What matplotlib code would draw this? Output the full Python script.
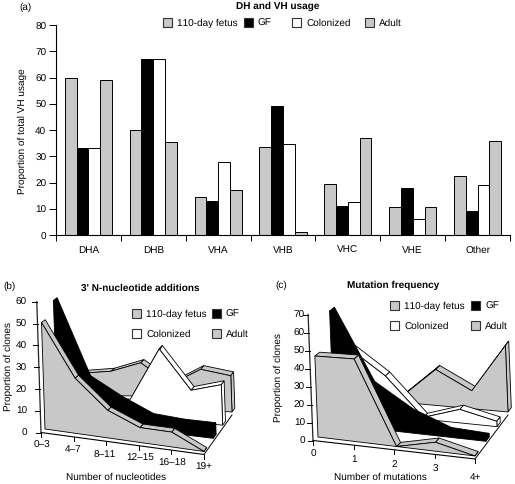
import numpy as np
import matplotlib
matplotlib.use('Agg')
import matplotlib.pyplot as plt
from matplotlib.patches import Polygon, Rectangle

plt.rcParams['font.family'] = ['Liberation Sans', 'DejaVu Sans']
plt.rcParams['text.hinting'] = 'no_hinting'
plt.rcParams['text.hinting_factor'] = 1

GREY = '#c8c8c8'
SERIES = ['110-day fetus', 'GF', 'Colonized', 'Adult']
COLORS = [GREY, 'black', 'white', GREY]

# panel a
usage_groups = ['DHA', 'DHB', 'VHA', 'VHB', 'VHC', 'VHE', 'Other']
usage_fetus = [60, 40, 14.5, 33.5, 19.5, 10.5, 22.5]
usage_gf = [33, 67, 13, 49, 11, 18, 9]
usage_colonized = [33, 67, 28, 34.5, 12.5, 6, 19]
usage_adult = [59, 35.5, 17, 1, 37, 10.5, 36]

# panel b
nuc_labels = ['0\u20133', '4\u20137', '8\u201311', '12\u201315', '16\u201318', '19+']
nuc_fetus = [50, 26, 13, 7, 7, 0]
nuc_gf = [56, 21, 13, 6.5, 5.5, 5.5]
nuc_colonized = [15, 7, 8, 33, 15, 19]
nuc_adult = [13, 15, 20, 11, 19, 17]

# panel c
mut_labels = ['0', '1', '2', '3', '4+']
mut_fetus = [45, 46, 0, 5, 0]
mut_gf = [63, 24, 11, 3, 2]
mut_colonized = [36, 22, 1, 7.5, 3]
mut_adult = [3, 3, 20, 10, 37]


def floor_point(geo, i, d):
    # bilinear position on the floor of the pseudo 3D chart
    u = i / geo['n']
    fl, fr, bl, br = [np.array(geo[k], float) for k in ('fl', 'fr', 'bl', 'br')]
    front = fl + (fr - fl) * u
    back = bl + (br - bl) * u
    return front + (back - front) * d / 3


def point(geo, i, d, v):
    p = floor_point(geo, i, d)
    return p + np.array([geo['tilt'], -geo['scale']]) * v


def draw_series(ax, geo, values, d, color):
    n = len(values)
    w = 0.3
    lw = 0.6
    # ribbon on top of the wall, drawn right to left
    for i in range(n - 2, -1, -1):
        quad = [point(geo, i, d, values[i]), point(geo, i + 1, d, values[i + 1]),
                point(geo, i + 1, d + w, values[i + 1]), point(geo, i, d + w, values[i])]
        ax.add_patch(Polygon(quad, fc=color, ec='black', lw=lw))
    # end cap
    cap = [point(geo, n - 1, d, values[-1]), point(geo, n - 1, d + w, values[-1]),
           point(geo, n - 1, d + w, 0), point(geo, n - 1, d, 0)]
    ax.add_patch(Polygon(cap, fc=color, ec='black', lw=lw))
    # wall
    face = [floor_point(geo, 0, d)]
    face += [point(geo, i, d, values[i]) for i in range(n)]
    face += [floor_point(geo, n - 1, d)]
    ax.add_patch(Polygon(face, fc=color, ec='black', lw=lw))


def legend_item(ax, x, y, color, label):
    ax.add_patch(Rectangle((x, y - 4.5), 9, 9, fc=color, ec='#333333', lw=0.8))
    ax.text(x + 14, y, label, fontsize=7.4, va='center', ha='left')


def draw_legend(ax, x1, x2, y1, y2):
    legend_item(ax, x1, y1, COLORS[0], SERIES[0])
    legend_item(ax, x2, y1, COLORS[1], SERIES[1])
    legend_item(ax, x1, y2, COLORS[2], SERIES[2])
    legend_item(ax, x2, y2, COLORS[3], SERIES[3])


def draw_panel(ax, geo, data, labels, yticks, label_pos):
    for d in range(3, -1, -1):
        draw_series(ax, geo, data[d], d, COLORS[d])

    # axes lines
    ax0 = np.array(geo['ax0'], float)
    n = geo['n']
    end = np.array(geo['fr'], float) + np.array([0, 3])
    ax.plot([ax0[0], end[0]], [ax0[1], end[1]], color='black', lw=0.8)
    ax.plot([end[0], geo['br'][0]], [end[1], geo['br'][1] + 3], color='black', lw=0.7)
    top = ax0 + np.array([geo['tilt'], -geo['axscale']]) * yticks[-1]
    ax.plot([ax0[0], top[0]], [ax0[1], top[1]], color='#222222', lw=0.9)
    for t in yticks:
        p = ax0 + np.array([geo['tilt'], -geo['axscale']]) * t
        ax.plot([p[0] - 5, p[0]], [p[1], p[1]], color='black', lw=0.7)
        ax.text(geo['tick_x'], p[1], str(t), fontsize=7, ha='right', va='center')
    for i, lab in enumerate(labels):
        p = ax0 + (end - ax0) * i / n
        ax.plot([p[0], p[0]], [p[1], p[1] + 4], color='black', lw=0.7)
        ax.text(label_pos[i][0], label_pos[i][1], lab, fontsize=7, ha='center', va='center')


def main():
    fig = plt.figure(figsize=(5.15, 4.85), dpi=100)

    # overlay in pixel units for the pseudo 3D panels and all loose text
    ov = fig.add_axes([0, 0, 1, 1])
    ov.set_xlim(0, 515)
    ov.set_ylim(485, 0)
    ov.axis('off')

    # panel a, ordinary bars
    ax = fig.add_axes([56 / 515, 1 - 236 / 485, 454 / 515, 210 / 485])
    pos = np.arange(len(usage_groups))
    bw = 0.182
    usage = [usage_fetus, usage_gf, usage_colonized, usage_adult]
    for k, vals in enumerate(usage):
        ax.bar(pos + 0.5 + (k - 1.5) * bw, vals, bw, color=COLORS[k], edgecolor='black', linewidth=0.7)
    ax.set_xlim(0, 7)
    ax.set_ylim(0, 80)
    ax.set_yticks(range(0, 81, 10))
    ax.set_xticks(range(8))
    ax.set_xticklabels([])
    ax.set_xticks(pos + 0.5, minor=True)
    ax.set_xticklabels(usage_groups, minor=True)
    ax.tick_params(axis='x', which='minor', length=0, labelsize=7, pad=7)
    ax.tick_params(axis='x', which='major', length=4, width=0.7)
    ax.tick_params(axis='y', length=5, width=0.7, labelsize=7, pad=2)
    ax.spines['top'].set_visible(False)
    ax.spines['right'].set_visible(False)
    ax.patch.set_alpha(0)

    ov.text(19, 7, '(a)', fontsize=7, ha='left', va='center')
    ov.text(278, 6, 'DH and VH usage', fontsize=7, fontweight='bold', ha='center', va='center')
    for x, color, lab in zip([163, 244, 292, 365], COLORS, SERIES):
        legend_item(ov, x, 23, color, lab)
    ov.text(22, 131, 'Proportion of total VH usage', fontsize=7, rotation=90, ha='center', va='center')

    # panel b
    geo_b = {'fl': (45, 430), 'fr': (204, 452.5), 'bl': (82, 402), 'br': (232, 413),
             'n': 5, 'tilt': -0.07, 'scale': 2.13, 'axscale': 2.18, 'ax0': (41, 433.5), 'tick_x': 27}
    nuc_pos = [(42, 445), (73, 449), (105, 455), (140, 458), (172, 463), (204, 467)]
    draw_panel(ov, geo_b, [nuc_fetus, nuc_gf, nuc_colonized, nuc_adult], nuc_labels,
               list(range(0, 61, 10)), nuc_pos)
    ov.text(3, 286, '(b)', fontsize=7, ha='left', va='center')
    ov.text(140, 288, "3' N-nucleotide additions", fontsize=7, fontweight='bold', ha='center', va='center')
    draw_legend(ov, 132, 212, 314, 334)
    ov.text(8, 367, 'Proportion of clones', fontsize=7, rotation=90, ha='center', va='center')
    ov.text(116, 477, 'Number of nucleotides', fontsize=7, ha='center', va='center')

    # panel c
    geo_c = {'fl': (318, 438), 'fr': (475, 457), 'bl': (366, 400), 'br': (508, 413),
             'n': 4, 'tilt': -0.07, 'scale': 1.8, 'axscale': 1.8, 'ax0': (313, 441.5), 'tick_x': 305}
    mut_pos = [(313, 454), (354, 459), (394, 464), (435, 469), (475, 477)]
    draw_panel(ov, geo_c, [mut_fetus, mut_gf, mut_colonized, mut_adult], mut_labels,
               list(range(0, 71, 10)), mut_pos)
    ov.text(275, 285, '(c)', fontsize=7, ha='left', va='center')
    ov.text(393, 285, 'Mutation frequency', fontsize=7, fontweight='bold', ha='center', va='center')
    draw_legend(ov, 390, 471, 306, 326)
    ov.text(278, 378, 'Proportion of clones', fontsize=7, rotation=90, ha='center', va='center')
    ov.text(380, 477, 'Number of mutations', fontsize=7, ha='center', va='center')

    fig.savefig('out.png', dpi=100)


if __name__ == '__main__':
    main()
